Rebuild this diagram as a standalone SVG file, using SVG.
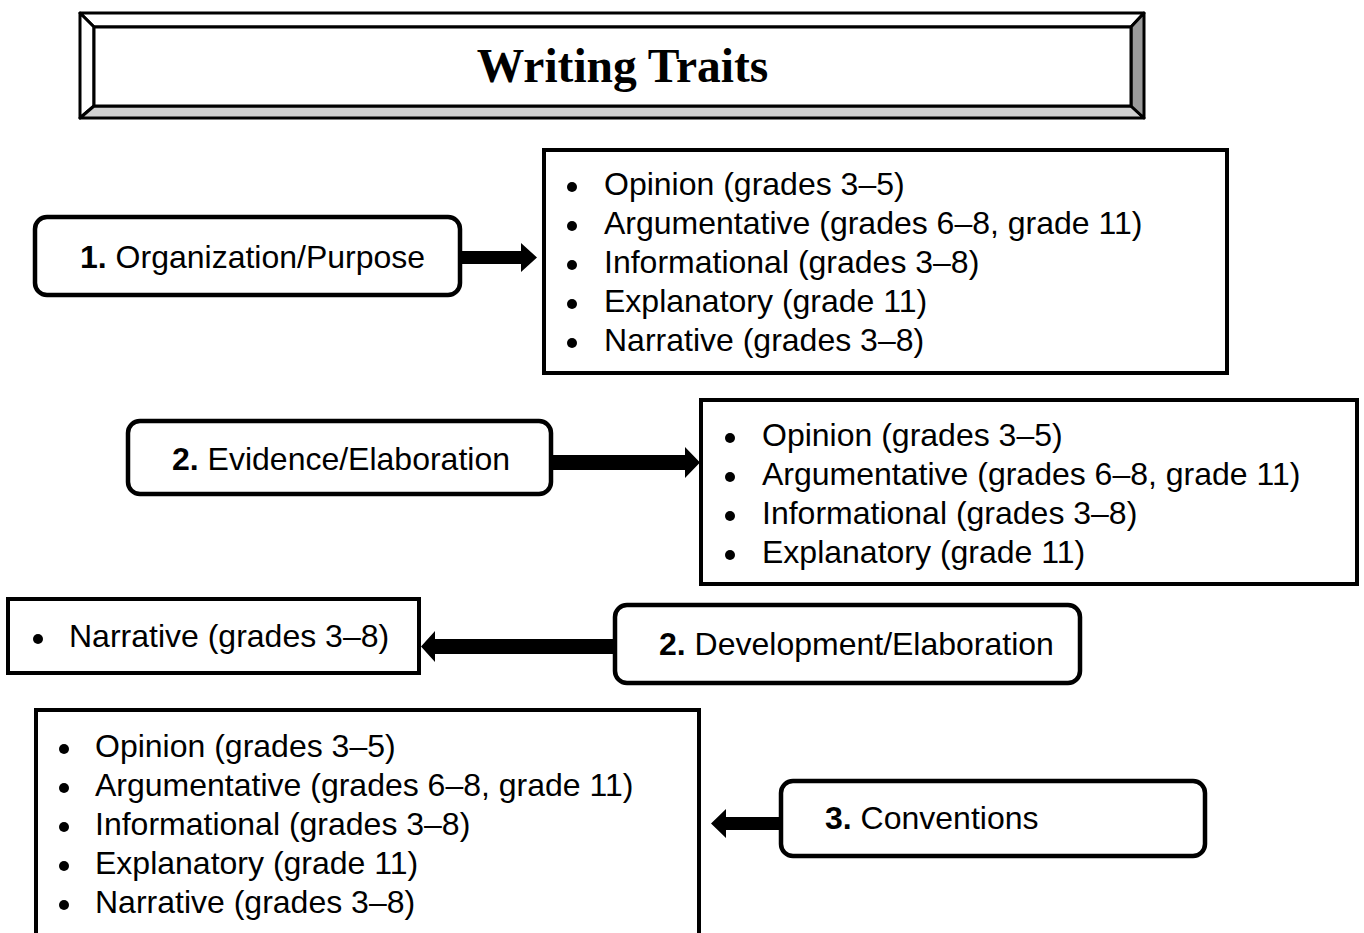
<svg xmlns="http://www.w3.org/2000/svg" width="1364" height="933" viewBox="0 0 1364 933">
<defs>
<style>
.t{font-family:"Liberation Sans",Arial,sans-serif;font-size:32px;fill:#000}
.b{font-weight:bold}
.box{fill:#fff;stroke:#000;stroke-width:4}
.rbox{fill:#fff;stroke:#000;stroke-width:4.5}
.bev{stroke:#000;stroke-width:3;stroke-linejoin:round}
.dot{fill:#000}
.arr{fill:#000}
</style>
</defs>
<rect width="1364" height="933" fill="#fff"/>
<g id="title">
<polygon class="bev" fill="#fff" points="80,13 1144,13 1131,27 94,27"/>
<polygon class="bev" fill="#fff" points="80,13 94,27 94,106 80,118"/>
<polygon class="bev" fill="#d0d0d0" points="80,118 94,106 1131,106 1144,118"/>
<polygon class="bev" fill="#9a9a9a" points="1144,13 1144,118 1131,106 1131,27"/>
<rect x="94" y="27" width="1037" height="79" fill="#fff" stroke="#000" stroke-width="3"/>
<text x="622.5" y="82" text-anchor="middle" style="font-family:'Liberation Serif','Times New Roman',serif;font-size:47.5px;font-weight:bold">Writing Traits</text>
</g>
<g id="connectors">
<polygon class="arr" points="462,251 521,251 521,243 537,257.5 521,272 521,264 462,264"/>
<polygon class="arr" points="553,455 685,455 685,447 700,462.5 685,478 685,470 553,470"/>
<polygon class="arr" points="613,639 435,639 435,631 421,646.5 435,662 435,654 613,654"/>
<polygon class="arr" points="781,817 726,817 726,809 711,823.5 726,838 726,830 781,830"/>
</g>
<g id="n1">
<rect class="rbox" x="35" y="217" width="425" height="78" rx="12"/>
<text class="t" x="80" y="268"><tspan class="b">1.</tspan> Organization/Purpose</text>
</g>
<g id="l1">
<rect class="box" x="544" y="150" width="683" height="223"/>
<circle class="dot" cx="572" cy="187" r="5"/>
<circle class="dot" cx="572" cy="226" r="5"/>
<circle class="dot" cx="572" cy="265" r="5"/>
<circle class="dot" cx="572" cy="304" r="5"/>
<circle class="dot" cx="572" cy="343" r="5"/>
<text class="t" x="604" y="195">Opinion (grades 3–5)</text>
<text class="t" x="604" y="234">Argumentative (grades 6–8, grade 11)</text>
<text class="t" x="604" y="273">Informational (grades 3–8)</text>
<text class="t" x="604" y="312">Explanatory (grade 11)</text>
<text class="t" x="604" y="351">Narrative (grades 3–8)</text>
</g>
<g id="n2">
<rect class="rbox" x="128" y="421" width="423" height="73" rx="12"/>
<text class="t" x="172" y="470"><tspan class="b">2.</tspan> Evidence/Elaboration</text>
</g>
<g id="l2">
<rect class="box" x="701" y="400" width="656" height="184"/>
<circle class="dot" cx="730" cy="438" r="5"/>
<circle class="dot" cx="730" cy="477" r="5"/>
<circle class="dot" cx="730" cy="516" r="5"/>
<circle class="dot" cx="730" cy="555" r="5"/>
<text class="t" x="762" y="446">Opinion (grades 3–5)</text>
<text class="t" x="762" y="485">Argumentative (grades 6–8, grade 11)</text>
<text class="t" x="762" y="524">Informational (grades 3–8)</text>
<text class="t" x="762" y="563">Explanatory (grade 11)</text>
</g>
<g id="l3">
<rect class="box" x="8" y="599" width="411" height="74"/>
<circle class="dot" cx="38" cy="639" r="5"/>
<text class="t" x="69" y="647">Narrative (grades 3–8)</text>
</g>
<g id="n3">
<rect class="rbox" x="615" y="605" width="465" height="78" rx="12"/>
<text class="t" x="659" y="655"><tspan class="b">2.</tspan> Development/Elaboration</text>
</g>
<g id="l4">
<rect class="box" x="36" y="710" width="663" height="240"/>
<circle class="dot" cx="64" cy="749" r="5"/>
<circle class="dot" cx="64" cy="788" r="5"/>
<circle class="dot" cx="64" cy="827" r="5"/>
<circle class="dot" cx="64" cy="866" r="5"/>
<circle class="dot" cx="64" cy="905" r="5"/>
<text class="t" x="95" y="757">Opinion (grades 3–5)</text>
<text class="t" x="95" y="796">Argumentative (grades 6–8, grade 11)</text>
<text class="t" x="95" y="835">Informational (grades 3–8)</text>
<text class="t" x="95" y="874">Explanatory (grade 11)</text>
<text class="t" x="95" y="913">Narrative (grades 3–8)</text>
</g>
<g id="n4">
<rect class="rbox" x="781" y="781" width="424" height="75" rx="12"/>
<text class="t" x="825" y="829"><tspan class="b">3.</tspan> Conventions</text>
</g>
</svg>
